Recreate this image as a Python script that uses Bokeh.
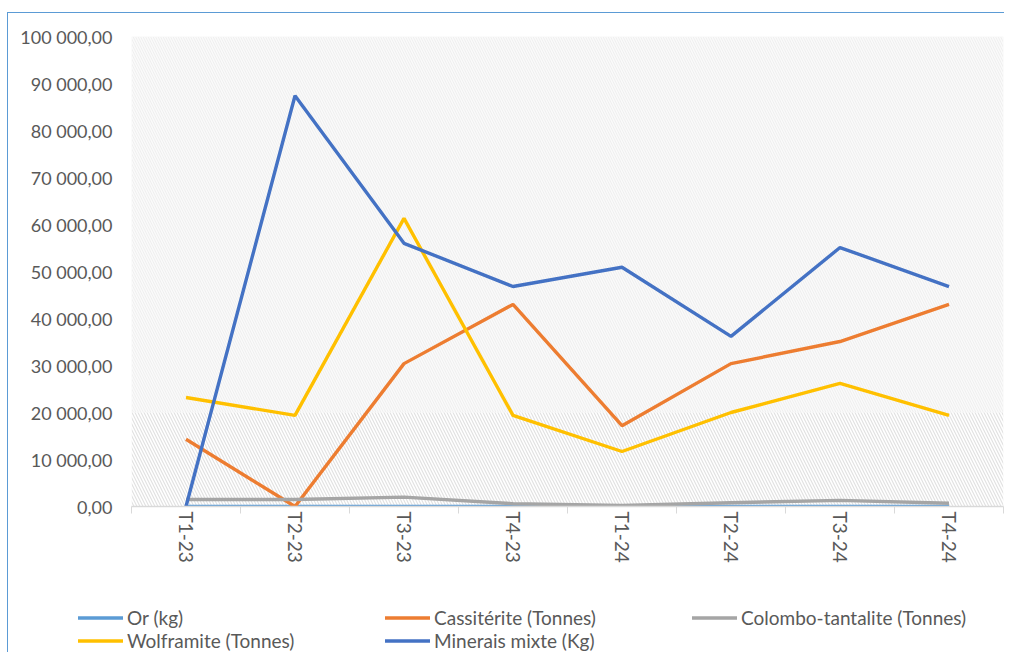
import math
from bokeh.plotting import figure
from bokeh.layouts import column, row
from bokeh.models import (Range1d, FixedTicker, Legend, LegendItem, CustomJSTickFormatter)
from bokeh.embed import file_html
from bokeh.resources import INLINE

categories = ["T1-23", "T2-23", "T3-23", "T4-23", "T1-24", "T2-24", "T3-24", "T4-24"]
or_kg = [15, 12, 18, 14, 10, 13, 16, 12]
cassiterite = [14300, 0, 30400, 43000, 17200, 30400, 35100, 43000]
colombo = [1500, 1500, 2000, 600, 200, 800, 1300, 700]
wolframite = [23200, 19400, 61300, 19400, 11700, 20000, 26200, 19400]
minerais = [0, 87400, 56000, 46800, 50900, 36200, 55100, 46800]

series = [
    ("Or (kg)", or_kg, "#5B9BD5"),
    ("Cassitérite (Tonnes)", cassiterite, "#ED7D31"),
    ("Colombo-tantalite (Tonnes)", colombo, "#A5A5A5"),
    ("Wolframite (Tonnes)", wolframite, "#FFC000"),
    ("Minerais mixte (Kg)", minerais, "#4472C4"),
]

FONT = "Lato"
TXT = "#595959"

xs = [i + 0.5 for i in range(len(categories))]

p = figure(width=996, height=569, output_backend="svg", toolbar_location=None,
           x_range=Range1d(0, len(categories)), y_range=Range1d(0, 100000),
           min_border_left=123, min_border_right=1, min_border_top=23, min_border_bottom=76)
p.outline_line_color = None
p.background_fill_color = "white"
p.border_fill_color = "white"
p.xgrid.visible = False
p.ygrid.visible = False

# hatched plot area
p.quad(left=0, right=len(categories), bottom=20000, top=100000, fill_color="#EDEDED",
       line_color=None, hatch_pattern="left_diagonal_line", hatch_color="#FAFAFA",
       hatch_scale=5, hatch_weight=1.5)
p.quad(left=0, right=len(categories), bottom=0, top=20000, fill_color="#FFFFFF",
       line_color=None, hatch_pattern="left_diagonal_line", hatch_color="#E2E2E2",
       hatch_scale=6, hatch_weight=1.2)

for name, vals, col in series:
    p.line(xs, vals, line_color=col, line_width=3.4)

# axes
yax = p.yaxis[0]
yax.ticker = FixedTicker(ticks=list(range(0, 100001, 10000)))
yax.formatter = CustomJSTickFormatter(code="""
var s = Math.round(tick).toString();
s = s.replace(/\\B(?=(\\d{3})+(?!\\d))/g, ' ');
return s + ',00';
""")
yax.axis_line_color = None
yax.major_tick_line_color = None
yax.minor_tick_line_color = None
yax.major_label_standoff = 13
yax.major_label_text_font = FONT
yax.major_label_text_font_size = "18px"
yax.major_label_text_color = TXT

xax = p.xaxis[0]
xax.ticker = FixedTicker(ticks=xs, minor_ticks=list(range(0, len(categories) + 1)))
xax.major_label_overrides = {x: c for x, c in zip(xs, categories)}
xax.axis_line_color = "#D9D9D9"
xax.axis_line_width = 1.5
xax.major_tick_line_color = None
xax.minor_tick_line_color = "#D9D9D9"
xax.minor_tick_out = 7
xax.minor_tick_in = 0
xax.major_label_orientation = -math.pi / 2
xax.major_label_standoff = -2
xax.major_label_text_font = FONT
xax.major_label_text_font_size = "19px"
xax.major_label_text_color = TXT

# legend figure below the chart
lf = figure(width=996, height=70, output_backend="svg", toolbar_location=None,
            x_range=Range1d(0, 1), y_range=Range1d(0, 1),
            min_border_left=0, min_border_right=0, min_border_top=0, min_border_bottom=0)
lf.axis.visible = False
lf.grid.visible = False
lf.outline_line_color = None
lf.background_fill_color = "white"
lf.border_fill_color = "white"
items = []
for name, vals, col in series:
    r = lf.line([-10, -9], [-10, -10], line_color=col, line_width=3.4, line_cap="round")
    items.append(LegendItem(label=name, renderers=[r]))

legend = Legend(items=items, ncols=3, location=(70, 0), orientation="horizontal",
                glyph_width=45, glyph_height=23, label_standoff=4, label_width=258,
                label_height=23, spacing=0, padding=0, margin=0,
                border_line_color=None, background_fill_alpha=0,
                label_text_font=FONT, label_text_font_size="19px", label_text_color=TXT)
lf.add_layout(legend, "center")

layout = column(p, row(lf), styles={"border-top": "1px solid #5B9BD5",
                                    "border-left": "1px solid #5B9BD5",
                                    "margin-left": "7px", "margin-top": "12px"})

open("out.html", "w").write(file_html(layout, INLINE))
